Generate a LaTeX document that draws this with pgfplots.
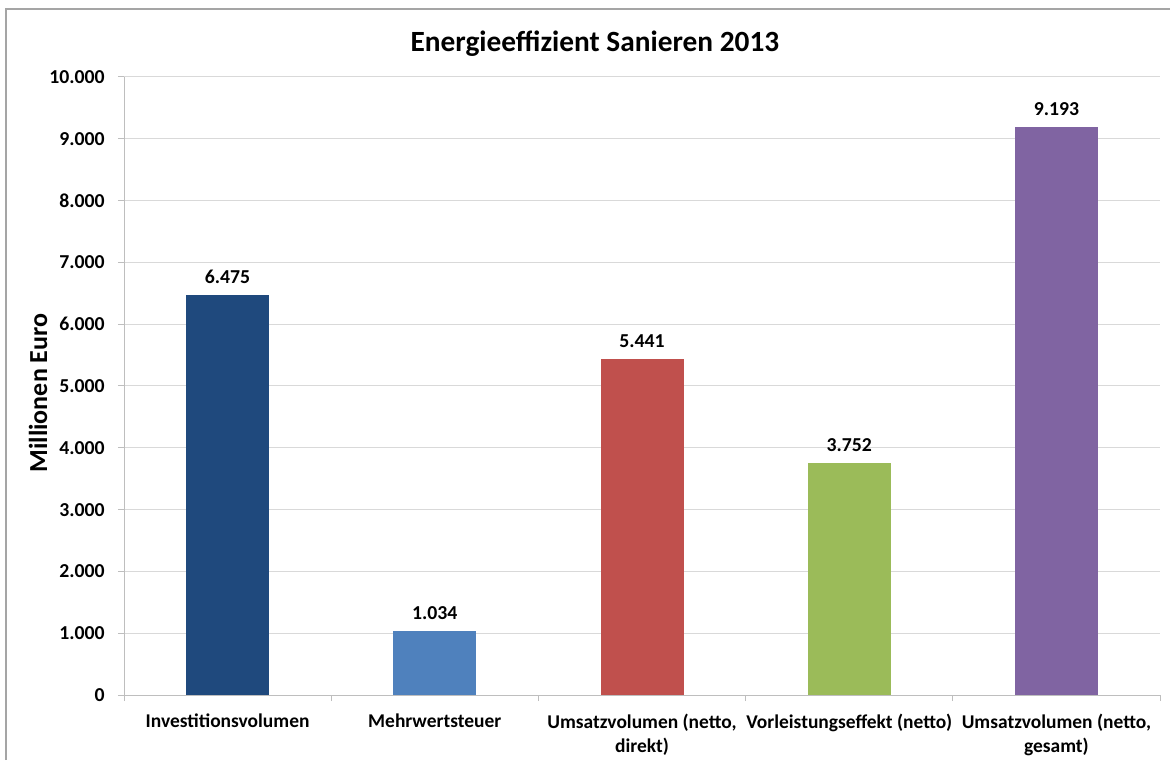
\documentclass[border=0pt]{standalone}
\usepackage{fontspec}
\setmainfont{Carlito}
\usepackage{pgfplots}
\pgfplotsset{compat=1.18}
\definecolor{c1}{HTML}{1F497D}
\definecolor{c2}{HTML}{4F81BD}
\definecolor{c3}{HTML}{C0504D}
\definecolor{c4}{HTML}{9BBB59}
\definecolor{c5}{HTML}{8064A2}
\definecolor{gridgray}{RGB}{217,217,217}
\definecolor{axgray}{RGB}{190,190,190}
\definecolor{bordergray}{RGB}{165,165,165}
\begin{document}
\begin{tikzpicture}[x=1pt,y=1pt]
\path[use as bounding box] (0,0) rectangle (877.5,570);
\draw[color=bordergray, line width=1.5pt] (4.5,0) -- (4.5,563.25) -- (877.5,563.25);
\begin{axis}[
  at={(93pt,48.75pt)}, anchor=south west,
  width=777pt, height=463.5pt, scale only axis,
  ybar,
  xmin=-0.5, xmax=4.5, ymin=0, ymax=10000,
  ytick={0,1000,...,10000},
  scaled y ticks=false,
  /pgf/number format/.cd, 1000 sep={.}, assume math mode=true, /pgfplots/.cd,
  ymajorgrids, grid style={color=gridgray, line width=0.75pt},
  axis lines*=left,
  axis line style={color=axgray, line width=0.75pt},
  tick style={color=axgray, line width=0.75pt},
  tick align=outside,
  major tick length=4.5pt,
  xtick={-0.5,0.5,1.5,2.5,3.5,4.5},
  xticklabels={,,,,,},
  extra x ticks={0,1,2,3,4},
  extra x tick labels={Investitionsvolumen, Mehrwertsteuer, {Umsatzvolumen (netto,\\direkt)}, Vorleistungseffekt (netto), {Umsatzvolumen (netto,\\gesamt)}},
  extra x tick style={major tick length=0pt},
  xticklabel style={font=\bfseries\fontsize{14.6}{18}\selectfont, align=center, inner sep=0pt, anchor=north, yshift=-14pt},
  yticklabel style={font=\bfseries\fontsize{14.8}{17}\selectfont, inner sep=0pt, anchor=east, xshift=-9.75pt},
  ylabel={Millionen Euro},
  every axis y label/.style={at={(axis description cs:-0.083,0.4887)}, rotate=90, anchor=center, font=\bfseries\fontsize{19.5}{22}\selectfont},
  title={Energieeffizient Sanieren 2013},
  title style={at={(axis description cs:0.4546,1.0404)}, anchor=center, yshift=0pt, font=\bfseries\fontsize{22}{26}\selectfont},
  nodes near coords={\pgfmathprintnumber[1000 sep={.}, assume math mode=true]{\pgfplotspointmeta}},
  every node near coord/.append style={font=\bfseries\fontsize{14.8}{17}\selectfont, anchor=south, inner sep=0pt, yshift=8.3pt, color=black},
]
\addplot[bar width=62.25pt, bar shift=0pt, fill=c1, draw=none] coordinates {(0,6475)};
\addplot[bar width=62.25pt, bar shift=0pt, fill=c2, draw=none] coordinates {(1,1034)};
\addplot[bar width=62.25pt, bar shift=0pt, fill=c3, draw=none] coordinates {(2,5441)};
\addplot[bar width=62.25pt, bar shift=0pt, fill=c4, draw=none] coordinates {(3,3752)};
\addplot[bar width=62.25pt, bar shift=0pt, fill=c5, draw=none] coordinates {(4,9193)};
\end{axis}
\end{tikzpicture}
\end{document}
